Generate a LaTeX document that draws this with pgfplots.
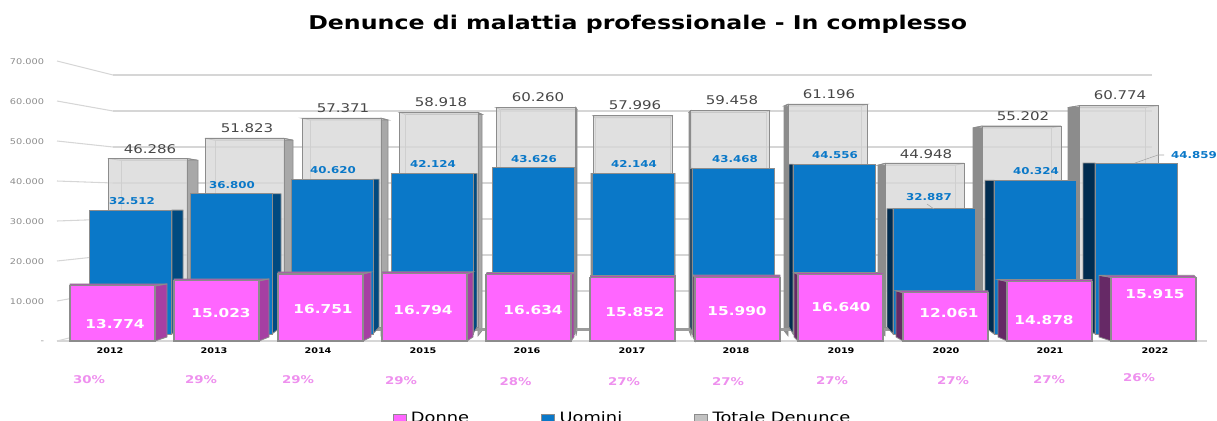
\documentclass[border=0pt]{standalone}
\usepackage{pgfplots}
\pgfplotsset{compat=1.18}
\usepackage{pgfplotstable}
\usepackage{fontspec}
\setmainfont{DejaVu Sans}[FakeStretch=1.25]
\definecolor{cgrid}{HTML}{D6D6D6}
\definecolor{cfloor}{HTML}{9C9C9C}
\definecolor{cedge}{HTML}{8C8C8C}
\definecolor{cpink}{HTML}{FF66FF}
\definecolor{cpinkR}{HTML}{A63FA3}
\definecolor{cpinkL}{HTML}{662966}
\definecolor{cpinkT}{HTML}{B050B0}
\definecolor{cblue}{HTML}{0A78C8}
\definecolor{cblueR}{HTML}{004A80}
\definecolor{cblueL}{HTML}{002C50}
\definecolor{cgray}{HTML}{D8D8D8}
\definecolor{cgrayR}{HTML}{A8A8A8}
\definecolor{cgrayL}{HTML}{8C8C8C}
\definecolor{cbluetxt}{HTML}{0A78C8}
\definecolor{cpct}{HTML}{EE90EE}
\pgfplotstableread{
x y
147.5 46286
244.5 51823
341.5 57371
439 58918
536 60260
632.5 57996
730 59458
827.5 61196
924.5 44948
1021.5 55202
1118.5 60774
}\tabTot
\pgfplotstableread{
x y
130.5 32512
231 36800
332 40620
432 42124
533.5 43626
633 42144
733 43468
834 44556
934 32887
1035 40324
1136 44859
}\tabUom
\pgfplotstableread{
x y
112.5 13774
216.5 15023
320.5 16751
424.5 16794
528.5 16634
632.5 15852
737.5 15990
840.5 16640
945.5 12061
1049.5 14878
1153.5 15915
}\tabDon
\pgfplotsset{
  layer/.style={scale only axis, xmin=57, xmax=1207, ymin=0, ymax=70000,
    clip=false, anchor=south west, width=862.5pt},
  face/.style={forget plot, draw=cedge, line width=0.6pt},
}
\newcommand{\sideL}[7]{\pgfmathsetmacro{\xa}{#1}\pgfmathsetmacro{\xb}{#1+#2}%
  \addplot[face, fill=#7] coordinates {(\xa,#3)(\xb,#4)(\xb,#6)(\xa,#5)} -- cycle;}
\newcommand{\topf}[7]{\pgfmathsetmacro{\xa}{#1+#3}\pgfmathsetmacro{\xb}{#2+#4}%
  \addplot[face, fill=#7] coordinates {(#1,#5)(#2,#5)(\xb,#6)(\xa,#6)} -- cycle;}
\newcommand{\pinkbar}[5]{%
  \edef\vf{\the\numexpr#5+500\relax}%
  \ifdim #3pt<0pt \sideL{#1}{#3}{#5}{\vf}{0}{1000}{cpinkL}\fi
  \ifdim #4pt>0pt \sideL{#2}{#4}{#5}{\vf}{0}{1000}{cpinkR}\fi
  \topf{#1}{#2}{#3}{#4}{#5}{\vf}{cpinkT}}
\newcommand{\bluebar}[5]{%
  \ifdim #3pt<0pt \sideL{#1}{#3}{#5}{#5}{0}{1800}{cblueL}\fi
  \ifdim #4pt>0pt \sideL{#2}{#4}{#5}{#5}{0}{1800}{cblueR}\fi}
\newcommand{\graybar}[5]{%
  \edef\vf{\the\numexpr#5-500\relax}%
  \ifdim #3pt<0pt \sideL{#1}{#3}{#5}{\vf}{-2400}{-1000}{cgrayL}\fi
  \ifdim #4pt>0pt \sideL{#2}{#4}{#5}{\vf}{-2400}{-1000}{cgrayR}\fi
  \topf{#1}{#2}{#3}{#4}{#5}{\vf}{cgray}%
  \ifdim #3pt>0pt \pgfmathsetmacro{\xin}{#1+#3}\addplot[forget plot, draw=cedge!70, line width=0.5pt] coordinates {(\xin,\vf)(\xin,0)};\fi
  \ifdim #4pt<0pt \pgfmathsetmacro{\xin}{#2+#4}\addplot[forget plot, draw=cedge!70, line width=0.5pt] coordinates {(\xin,\vf)(\xin,0)};\fi}
\newcommand{\lab}[4]{\edef\tmplab{\noexpand\node[font=\noexpand#4, inner sep=0pt, anchor=center] at (axis cs:#1,\the\numexpr(341-#2)*250\relax) {\unexpanded{#3}};}\tmplab}
\begin{document}
\begin{tikzpicture}
\useasboundingbox (0,0) rectangle (912.75pt,315.75pt);
\begin{axis}[layer, at={(42.75pt,60pt)}, height=210pt,
  axis line style={draw=none}, tick style={draw=none}, major tick length=0pt,
  scaled y ticks=false,
  ytick={0,10000,20000,30000,40000,50000,60000,70000},
  yticklabels={-,10.000,20.000,30.000,40.000,50.000,60.000,70.000},
  yticklabel style={font=\fontsize{5.85}{6}\selectfont, text=gray!90, anchor=east, xshift=-6.2pt, yshift=-0.7pt},
  xtick={110,214,318,423,527,632,736,841,946,1050,1155},
  xticklabels={2012,2013,2014,2015,2016,2017,2018,2019,2020,2021,2022},
  xticklabel style={font=\fontsize{5.8}{6}\selectfont\bfseries, text=black, anchor=center, yshift=-7.5pt},
  title={Denunce di malattia professionale - In complesso},
  every axis title shift=0pt,
  title style={font=\fontsize{14.2}{15}\selectfont\bfseries, at={(0.505,1.132)}, anchor=center},
]
\addplot[forget plot, draw=cgrid, line width=1.3pt] coordinates {(113,66500)(1152,66500)};
\addplot[forget plot, draw=cgrid, line width=1.3pt] coordinates {(113,57500)(1152,57500)};
\addplot[forget plot, draw=cgrid, line width=1.3pt] coordinates {(113,48500)(1152,48500)};
\addplot[forget plot, draw=cgrid, line width=1.3pt] coordinates {(113,39500)(1152,39500)};
\addplot[forget plot, draw=cgrid, line width=1.3pt] coordinates {(113,30500)(1152,30500)};
\addplot[forget plot, draw=cgrid, line width=1.3pt] coordinates {(113,21500)(1152,21500)};
\addplot[forget plot, draw=cgrid, line width=1.3pt] coordinates {(113,12500)(1152,12500)};
\addplot[forget plot, draw=cgrid, line width=0.8pt] coordinates {(57,70000)(113,66500)};
\addplot[forget plot, draw=cgrid, line width=0.8pt] coordinates {(57,60000)(113,57500)};
\addplot[forget plot, draw=cgrid, line width=0.8pt] coordinates {(57,50000)(113,48500)};
\addplot[forget plot, draw=cgrid, line width=0.8pt] coordinates {(57,40000)(113,39500)};
\addplot[forget plot, draw=cgrid, line width=0.8pt] coordinates {(57,30000)(113,30500)};
\addplot[forget plot, draw=cgrid, line width=0.8pt] coordinates {(57,20000)(113,21500)};
\addplot[forget plot, draw=cgrid, line width=0.8pt] coordinates {(57,10000)(113,12500)};
\addplot[forget plot, draw=cgrid, line width=0.8pt] coordinates {(57,0)(113,3500)};
\addplot[forget plot, draw=cgrid, line width=1.4pt] coordinates {(57,0)(1207,0)};
\end{axis}
\begin{axis}[layer, at={(42.75pt,70.5pt)}, height=191.1pt, hide axis]
\graybar{108}{187}{13}{11}{46286}
\graybar{205}{284}{10}{9}{51823}
\graybar{302}{381}{8}{7}{57371}
\graybar{400}{478}{5}{4}{58918}
\graybar{496}{576}{4}{1}{60260}
\graybar{593}{672}{2}{-2}{57996}
\graybar{691}{769}{-2}{-3}{59458}
\graybar{788}{867}{-4}{-6}{61196}
\graybar{885}{964}{-7}{-9}{44948}
\graybar{982}{1061}{-9}{-10}{55202}
\graybar{1079}{1158}{-11}{-13}{60774}
\addplot[forget plot, ybar, bar shift=0pt, bar width=59.25pt, draw=cedge, line width=0.6pt, fill=cgray, fill opacity=0.8] table[x=x,y=y] {\tabTot};
\end{axis}
\begin{axis}[layer, at={(42.75pt,65.25pt)}, height=200.025pt, hide axis]
\addplot[forget plot, draw=cfloor, line width=2.2pt] coordinates {(113,1180)(1152,1180)};
\bluebar{89}{172}{0}{11}{32512}
\bluebar{190}{272}{0}{9}{36800}
\bluebar{291}{373}{0}{6}{40620}
\bluebar{391}{473}{0}{4}{42124}
\bluebar{492}{575}{0}{1}{43626}
\bluebar{592}{674}{-1}{1}{42144}
\bluebar{692}{774}{-2}{0}{43468}
\bluebar{793}{875}{-4}{0}{44556}
\bluebar{893}{975}{-6}{0}{32887}
\bluebar{994}{1076}{-9}{0}{40324}
\bluebar{1095}{1177}{-12}{0}{44859}
\addplot[forget plot, ybar, bar shift=0pt, bar width=61.5pt, draw=cedge, line width=0.7pt, fill=cblue] table[x=x,y=y] {\tabUom};
\end{axis}
\begin{axis}[layer, at={(42.75pt,60pt)}, height=210pt, hide axis,
  legend image code/.code={\draw[#1] (0pt,-3pt) rectangle (9.75pt,3pt);},
  legend style={at={(0.2915,-0.277)}, anchor=west, draw=none, fill=none, legend columns=3,
    font=\fontsize{10.7}{11}\selectfont, inner sep=0pt,
    /tikz/every odd column/.append style={column sep=1.5pt},
    /tikz/every even column/.append style={column sep=52pt}},
]
\pinkbar{70}{155}{0}{12}{13774}
\pinkbar{174}{259}{0}{10}{15023}
\pinkbar{278}{363}{0}{8}{16751}
\pinkbar{382}{467}{0}{6}{16794}
\pinkbar{486}{571}{1}{3}{16634}
\pinkbar{590}{675}{0}{0}{15852}
\pinkbar{695}{780}{-2}{0}{15990}
\pinkbar{798}{883}{-4}{0}{16640}
\pinkbar{903}{988}{-7}{0}{12061}
\pinkbar{1007}{1092}{-9}{0}{14878}
\pinkbar{1111}{1196}{-12}{-2}{15915}
\addplot[forget plot, ybar, bar shift=0pt, bar width=63.75pt, draw=cedge, line width=0.8pt, fill=cpink] table[x=x,y=y] {\tabDon};
\addplot[forget plot, draw=gray!70, line width=0.4pt] coordinates {(1135,44500)(1158,46500)(1164,46500)};
\addplot[forget plot, draw=gray!70, line width=0.4pt] coordinates {(927,34250)(934,33000)};
\addlegendimage{draw=cedge, fill=cpink, line width=0.6pt}\addlegendentry{Donne}
\addlegendimage{draw=cedge, fill=cblue, line width=0.6pt}\addlegendentry{Uomini\hspace{2.5pt}}
\addlegendimage{draw=cedge, fill=cgray!90!black, line width=0.6pt}\addlegendentry{Totale Denunce}
\def\gf{\fontsize{9}{9}\selectfont\color{black!72}}
\lab{150}{149}{46.286}{\gf}\lab{247}{128}{51.823}{\gf}\lab{343}{108}{57.371}{\gf}
\lab{441}{102}{58.918}{\gf}\lab{538}{97}{60.260}{\gf}\lab{635}{105}{57.996}{\gf}
\lab{732}{100}{59.458}{\gf}\lab{829}{94}{61.196}{\gf}\lab{926}{154}{44.948}{\gf}
\lab{1023}{116}{55.202}{\gf}\lab{1120}{95}{60.774}{\gf}
\def\bfl{\fontsize{7.1}{8}\selectfont\bfseries\color{cbluetxt}}
\lab{132}{201}{32.512}{\bfl}\lab{232}{185}{36.800}{\bfl}\lab{333}{170}{40.620}{\bfl}
\lab{433}{164}{42.124}{\bfl}\lab{534}{159}{43.626}{\bfl}\lab{634}{164}{42.144}{\bfl}
\lab{735}{159}{43.468}{\bfl}\lab{835}{155}{44.556}{\bfl}\lab{929}{197}{32.887}{\bfl}
\lab{1036}{171}{40.324}{\bfl}\lab{1194}{155}{44.859}{\bfl}
\def\wf{\fontsize{9.2}{10}\selectfont\bfseries\color{white}}
\lab{115}{324}{13.774}{\wf}\lab{221}{313}{15.023}{\wf}\lab{323}{309}{16.751}{\wf}
\lab{423}{310}{16.794}{\wf}\lab{533}{310}{16.634}{\wf}\lab{635}{312}{15.852}{\wf}
\lab{737}{311}{15.990}{\wf}\lab{841}{307}{16.640}{\wf}\lab{949}{313}{12.061}{\wf}
\lab{1044}{320}{14.878}{\wf}\lab{1155}{294}{15.915}{\wf}
\def\pf{\fontsize{8}{9}\selectfont\bfseries\color{cpct}}
\lab{89}{380}{30\%}{\pf}\lab{201}{380}{29\%}{\pf}\lab{298}{380}{29\%}{\pf}
\lab{401}{381}{29\%}{\pf}\lab{515.5}{382}{28\%}{\pf}\lab{624}{382}{27\%}{\pf}
\lab{728}{382}{27\%}{\pf}\lab{832}{381}{27\%}{\pf}\lab{953}{381}{27\%}{\pf}
\lab{1049}{380}{27\%}{\pf}\lab{1139}{378}{26\%}{\pf}
\end{axis}
\end{tikzpicture}
\end{document}
